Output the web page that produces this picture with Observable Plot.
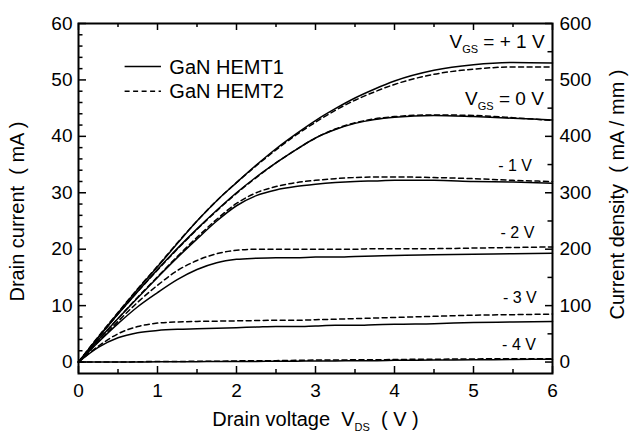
<!DOCTYPE html>
<html><head><meta charset="utf-8">
<script src="https://cdn.jsdelivr.net/npm/d3@7"></script>
<script src="https://cdn.jsdelivr.net/npm/@observablehq/plot@0.6"></script>
<style>
body{margin:0;background:#fff;}
svg text{font-family:"Liberation Sans",Arial,sans-serif;}
</style></head><body><div id="chart"></div>
<script>
// Drain voltage grid (V)
const vds = [0,0.25,0.5,0.75,1,1.25,1.5,1.75,2,2.25,2.5,2.75,3,3.25,3.5,3.75,4,4.5,5,5.5,6];

// Drain current (mA) – GaN HEMT1 (solid)
const h1_p1 = [0,4.4,8.7,12.9,16.9,21.0,25.0,28.6,31.8,34.9,37.8,40.4,42.8,44.9,46.8,48.4,49.8,51.7,52.7,53.1,53.0];
const h1_0  = [0,4.3,8.5,12.5,16.4,20.1,23.6,26.9,30.0,32.8,35.3,37.6,39.7,41.2,42.3,43.0,43.4,43.7,43.5,43.2,42.9];
const h1_m1 = [0,3.9,7.7,11.4,15.0,18.5,21.8,25.0,27.7,29.5,30.5,31.1,31.5,31.8,32.0,32.1,32.2,32.2,32.0,31.9,31.7];
const h1_m2 = [0,3.5,6.8,9.8,12.3,14.6,16.4,17.6,18.2,18.4,18.5,18.5,18.6,18.6,18.7,18.8,18.9,19.0,19.1,19.2,19.3];
const h1_m3 = [0,2.6,4.3,5.2,5.6,5.8,5.9,6.0,6.1,6.2,6.3,6.3,6.4,6.5,6.5,6.6,6.7,6.8,7.0,7.1,7.2];
const h1_m4 = [0,0,0,0,0.05,0.05,0.05,0.1,0.1,0.1,0.15,0.15,0.2,0.2,0.25,0.25,0.3,0.35,0.4,0.45,0.5];

// Drain current (mA) – GaN HEMT2 (dashed)
const h2_p1 = [0,4.5,8.8,13.0,17.0,21.1,25.0,28.6,31.8,34.8,37.6,40.2,42.5,44.6,46.4,47.9,49.2,51.0,51.9,52.3,52.3];
const h2_0  = [0,4.3,8.5,12.5,16.3,20.0,23.5,26.8,29.9,32.7,35.3,37.6,39.7,41.3,42.4,43.1,43.5,43.8,43.7,43.3,42.8];
const h2_m1 = [0,3.9,7.7,11.5,15.1,18.7,22.1,25.3,28.1,30.0,31.1,31.8,32.2,32.5,32.7,32.8,32.8,32.7,32.5,32.2,32.0];
const h2_m2 = [0,3.6,7.2,10.6,13.6,16.2,18.0,19.2,19.8,20.0,20.0,20.0,20.0,20.0,20.0,20.1,20.1,20.1,20.2,20.3,20.4];
const h2_m3 = [0,2.8,5.0,6.3,6.9,7.1,7.2,7.25,7.3,7.35,7.4,7.4,7.5,7.6,7.7,7.8,7.9,8.1,8.3,8.4,8.5];
const h2_m4 = [0,0,0,0.05,0.1,0.1,0.15,0.15,0.2,0.25,0.25,0.3,0.35,0.35,0.4,0.4,0.45,0.5,0.55,0.6,0.6];

const devices = ["GaN HEMT1","GaN HEMT2"];
const gateVoltages = ["+1","0","-1","-2","-3","-4"];
const h1Series = [h1_p1,h1_0,h1_m1,h1_m2,h1_m3,h1_m4];
const h2Series = [h2_p1,h2_0,h2_m1,h2_m2,h2_m3,h2_m4];

// Curve labels (text, anchor V, anchor mA baseline)
const curveLabelText = ["VGS = + 1 V","VGS = 0 V","- 1 V","- 2 V","- 3 V","- 4 V"];
const curveLabelX = [5.90,5.89,5.74,5.77,5.80,5.79];
const curveLabelY = [55.6,45.5,33.8,21.9,10.4,2.1];

// Axis ticks
const xTicks = [0,1,2,3,4,5,6];
const xMinorTicks = [0.5,1.5,2.5,3.5,4.5,5.5];
const yTicks = [0,10,20,30,40,50,60];
const yMinorTicks = [2,4,6,8,12,14,16,18,22,24,26,28,32,34,36,38,42,44,46,48,52,54,56,58];
const densityTicks = [0,100,200,300,400,500,600];      // mA/mm
const densityMinorTicks = [50,150,250,350,450,550];
const densityPerMA = 10; // 1 mA ↔ 10 mA/mm

const rows = [];
[h1Series,h2Series].forEach((ser,di)=>ser.forEach((vals,gi)=>vals.forEach((v,k)=>
  rows.push({device:devices[di], vgs:gateVoltages[gi], vds:vds[k], id:v}))));

const labels = curveLabelText.map((t,i)=>({t, x:curveLabelX[i], y:curveLabelY[i], big:i<2}));

const W=633,H=433, mL=78, mR=81, mT=23, mB=60;
const pw=W-mL-mR, ph=H-mT-mB;

const plot = Plot.plot({
  width:W, height:H,
  marginLeft:mL, marginRight:mR, marginTop:mT, marginBottom:mB,
  style:{fontFamily:'"Liberation Sans",Arial,sans-serif', fontSize:"19px", color:"black", background:"white"},
  x:{domain:[0,6]},
  y:{domain:[-2.03,60]},
  marks:[
    // curves
    Plot.line(rows.filter(d=>d.device==="GaN HEMT1"), {x:"vds", y:"id", z:"vgs", stroke:"black", strokeWidth:1.5, curve:"monotone-x"}),
    Plot.line(rows.filter(d=>d.device==="GaN HEMT2"), {x:"vds", y:"id", z:"vgs", stroke:"black", strokeWidth:1.5, strokeDasharray:"5,3.5", curve:"monotone-x"}),
    // ticks (inward)
    Plot.tickX(xTicks, {x:d=>d, insetTop:ph-7, strokeWidth:1.5}),
    Plot.tickX(xMinorTicks, {x:d=>d, insetTop:ph-4, strokeWidth:1.5}),
    Plot.tickX(xTicks, {x:d=>d, insetBottom:ph-7, strokeWidth:1.5}),
    Plot.tickX(xMinorTicks, {x:d=>d, insetBottom:ph-4, strokeWidth:1.5}),
    Plot.tickY(yTicks, {y:d=>d, insetRight:pw-8, strokeWidth:1.5}),
    Plot.tickY(yMinorTicks, {y:d=>d, insetRight:pw-4.5, strokeWidth:1.5}),
    Plot.tickY(densityTicks, {y:d=>d/densityPerMA, insetLeft:pw-7, strokeWidth:1.5}),
    Plot.tickY(densityMinorTicks, {y:d=>d/densityPerMA, insetLeft:pw-4.5, strokeWidth:1.5}),
    Plot.frame({stroke:"black", strokeWidth:2}),
    // tick labels
    Plot.axisX({ticks:xTicks, tickFormat:d=>String(d), tickSize:0, tickPadding:10, label:null, fontSize:19}),
    Plot.axisY({ticks:yTicks, tickFormat:d=>String(d), tickSize:0, tickPadding:6, label:null, anchor:"left", fontSize:19}),
    Plot.axisY({ticks:densityTicks.map(d=>d/densityPerMA), tickFormat:(d,i)=>String(densityTicks[i]), tickSize:0, tickPadding:7, label:null, anchor:"right", fontSize:19}),
    // axis titles
    Plot.text(["Drain current  ( mA )"], {frameAnchor:"left", dx:-61, dy:13, rotate:-90, fontSize:20, lineAnchor:"middle", textAnchor:"middle"}),
    Plot.text(["Current density  ( mA / mm )"], {frameAnchor:"right", dx:65, dy:-4, rotate:-90, fontSize:20, lineAnchor:"middle", textAnchor:"middle"}),
    Plot.text(["Drain voltage  VDS  ( V )"], {frameAnchor:"bottom", dy:52, fontSize:20, lineAnchor:"bottom", textAnchor:"middle"}),
    // curve labels
    Plot.text(labels.filter(d=>d.big), {x:"x", y:"y", text:"t", textAnchor:"end", lineAnchor:"bottom", fontSize:19}),
    Plot.text(labels.filter(d=>!d.big), {x:"x", y:"y", text:"t", textAnchor:"end", lineAnchor:"bottom", fontSize:16}),
    // legend
    Plot.ruleY([52.37], {x1:0.59, x2:1.05, stroke:"black", strokeWidth:1.5}),
    Plot.ruleY([47.98], {x1:0.59, x2:1.05, stroke:"black", strokeWidth:1.5, strokeDasharray:"5,3.5"}),
    Plot.text(devices, {x:1.15, y:(d,i)=>[51.0,46.87][i], text:d=>d, textAnchor:"start", lineAnchor:"bottom", fontSize:20})
  ]
});

// subscripts (VGS, VDS) and preserved spacing
const ns="http://www.w3.org/2000/svg";
plot.querySelectorAll("text").forEach(t=>{
  t.setAttribute("style", (t.getAttribute("style")||"")+";white-space:pre");
  if (t.querySelector("tspan")) return;
  const m = t.textContent.match(/^(.*?V)(GS|DS)(.*)$/);
  if (!m) return;
  t.textContent="";
  const a=document.createElementNS(ns,"tspan"); a.textContent=m[1];
  const b=document.createElementNS(ns,"tspan"); b.textContent=m[2]; b.setAttribute("font-size","11"); b.setAttribute("dy","5");
  const c=document.createElementNS(ns,"tspan"); c.textContent=m[3]; c.setAttribute("dy","-5");
  t.append(a,b,c);
});
document.getElementById("chart").append(plot);
</script></body></html>
